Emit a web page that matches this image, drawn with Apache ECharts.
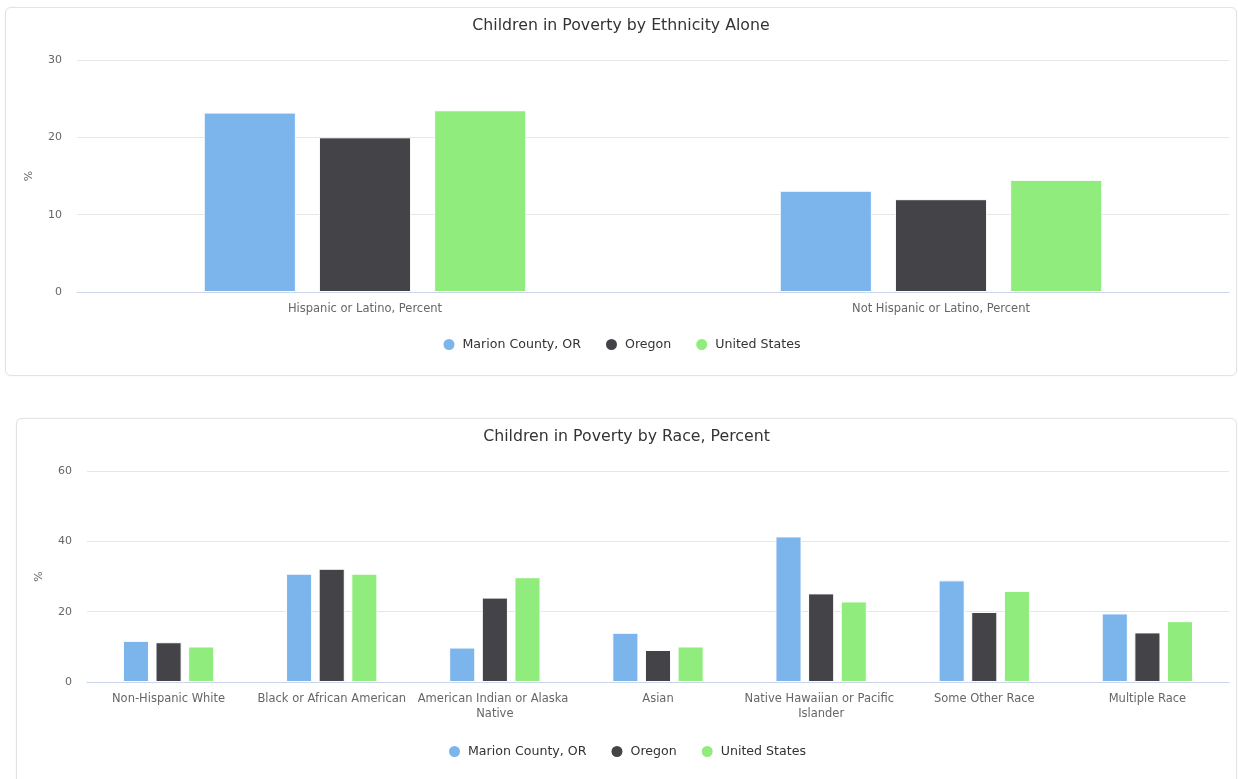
<!DOCTYPE html>
<html>
<head>
<meta charset="utf-8">
<title>Children in Poverty</title>
<script src="https://cdn.jsdelivr.net/npm/echarts@6/dist/echarts.min.js"></script>
<style>
  html, body { margin: 0; padding: 0; background: #fff; overflow: hidden; }
  .card {
    position: absolute;
    box-sizing: border-box;
    border: 1px solid #e3e3e3;
    border-radius: 6px;
    box-shadow: 0 0 2px rgba(0, 0, 0, 0.06);
    background: #fff;
  }
  #ethnicityCard { left: 5px; top: 7px; width: 1232px; height: 369px; }
  #raceCard { left: 16px; top: 418px; width: 1221px; height: 380px; }
</style>
</head>
<body>
<div id="ethnicityCard" class="card"></div>
<div id="raceCard" class="card"></div>

<script>
  // series names + colours (highcharts default palette look)
  const seriesNames = ['Marion County, OR', 'Oregon', 'United States'];
  const seriesColors = ['#7cb5ec', '#434348', '#90ed7d'];

  // chart 1: by ethnicity
  const ethnicityCats = ['Hispanic or Latino, Percent', 'Not Hispanic or Latino, Percent'];
  const ethnicityMarion = [23.2, 13.1];
  const ethnicityOregon = [20.0, 12.0];
  const ethnicityUS = [23.5, 14.5];

  // chart 2: by race
  const raceCats = [
    'Non-Hispanic White',
    'Black or African American',
    'American Indian or Alaska Native',
    'Asian',
    'Native Hawaiian or Pacific Islander',
    'Some Other Race',
    'Multiple Race'
  ];
  const raceMarion = [11.7, 30.8, 9.8, 14.0, 41.4, 28.9, 19.5];
  const raceOregon = [11.3, 32.2, 24.0, 9.1, 25.2, 19.9, 14.1];
  const raceUS = [10.1, 30.8, 29.8, 10.1, 22.9, 25.9, 17.3];

  const font = '"DejaVu Sans", sans-serif';

  function makeSeries(dataList) {
    return dataList.map((d, i) => ({
      name: seriesNames[i],
      type: 'bar',
      data: d,
      barGap: '25%',
      barCategoryGap: '44%',
      itemStyle: { color: seriesColors[i], borderColor: '#fff', borderWidth: 1 }
    }));
  }

  function buildOption(cfg) {
    return {
      textStyle: { fontFamily: font },
      animation: false,
      title: {
        text: cfg.title,
        left: 'center',
        top: 5,
        textStyle: { fontFamily: font, fontSize: 15.75, fontWeight: 'normal', color: '#333' }
      },
      legend: {
        data: seriesNames,
        left: 'center',
        top: cfg.legendTop,
        icon: 'circle',
        itemWidth: 13,
        itemHeight: 13,
        itemGap: 23,
        textStyle: { fontFamily: font, fontSize: 12.6, color: '#333', padding: [0, 0, 0, 2] }
      },
      grid: cfg.grid,
      xAxis: {
        type: 'category',
        data: cfg.cats,
        axisLine: { lineStyle: { color: '#ccd6eb' } },
        axisTick: { length: 10, lineStyle: { color: '#ccd6eb' } },
        axisLabel: {
          color: '#666',
          fontSize: 11.5,
          margin: 10,
          lineHeight: 15,
          width: cfg.labelWidth,
          overflow: 'break',
          interval: 0
        }
      },
      yAxis: {
        type: 'value',
        min: 0,
        max: cfg.max,
        interval: cfg.interval,
        name: '%',
        nameLocation: 'middle',
        nameGap: 42,
        nameTextStyle: { color: '#666', fontSize: 11 },
        axisLabel: { color: '#666', fontSize: 11, margin: 15 },
        axisLine: { show: false },
        axisTick: { show: false },
        splitLine: { lineStyle: { color: '#e6e6e6' } }
      },
      series: makeSeries(cfg.data)
    };
  }

  const ethnicityChart = echarts.init(document.getElementById('ethnicityCard'));
  ethnicityChart.setOption(buildOption({
    title: 'Children in Poverty by Ethnicity Alone',
    cats: ethnicityCats,
    data: [ethnicityMarion, ethnicityOregon, ethnicityUS],
    max: 30,
    interval: 10,
    legendTop: 324,
    labelWidth: 500,
    grid: { left: 71, right: 7, top: 52, bottom: 83 }
  }));

  const raceChart = echarts.init(document.getElementById('raceCard'));
  raceChart.setOption(buildOption({
    title: 'Children in Poverty by Race, Percent',
    cats: raceCats,
    data: [raceMarion, raceOregon, raceUS],
    max: 60,
    interval: 20,
    legendTop: 320,
    labelWidth: 160,
    grid: { left: 70, right: 7, top: 52, bottom: 115 }
  }));
</script>
</body>
</html>
